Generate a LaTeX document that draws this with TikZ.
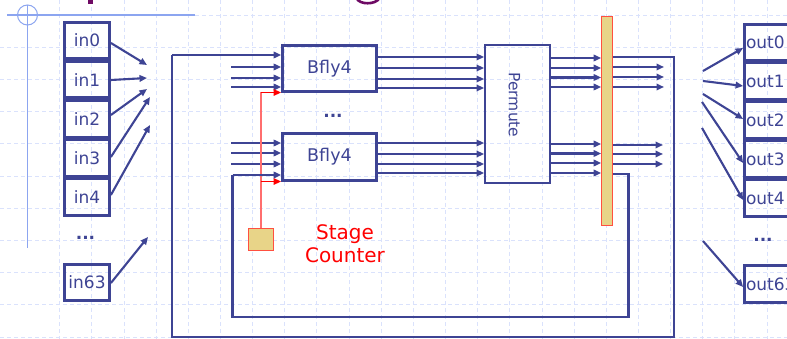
\documentclass[tikz,border=0pt]{standalone}
\usepackage{fontspec}
\setmainfont{DejaVu Sans}
\usetikzlibrary{arrows.meta,calc}
\definecolor{navy}{RGB}{62,68,148}
\definecolor{gridc}{RGB}{218,226,252}
\definecolor{axisc}{RGB}{140,165,240}
\definecolor{regfill}{RGB}{232,212,136}
\definecolor{regline}{RGB}{255,80,64}
\definecolor{titlec}{RGB}{110,10,100}
\definecolor{redline}{RGB}{255,110,110}
\begin{document}
\begin{tikzpicture}[x=1pt,y=-1pt,
  gridline/.style={draw=gridc,line width=0.8pt,dash pattern=on 4pt off 3pt},
  iobox/.style={draw=navy,line width=2.8pt,inner sep=0pt,minimum width=45pt,minimum height=36.5pt,
    font=\fontsize{17}{20}\selectfont,text=navy},
  outbox/.style={draw=navy,line width=2.8pt,inner ysep=0pt,inner xsep=1.5pt,text width=47pt,align=left,
    minimum height=36.5pt,font=\fontsize{17}{20}\selectfont,text=navy},
  bfbox/.style={draw=navy,line width=2.8pt,inner sep=0pt,minimum width=94pt,
    font=\fontsize{17.5}{20}\selectfont,text=navy},
  conn/.style={draw=navy,line width=2.1pt,-{Triangle[length=7.5pt,width=6.5pt]}},
  loopline/.style={draw=navy,line width=2.1pt},
  redarrow/.style={draw=red,line width=1.4pt,-{Triangle[length=7.5pt,width=6.5pt]}},
  dots/.style={text=navy,font=\fontsize{17}{20}\selectfont\bfseries,inner sep=0pt}
]
\useasboundingbox (0,0) rectangle (787,339);
\fill[white] (0,0) rectangle (787,339);
% grid
\foreach \i in {1,...,23} \draw[gridline] ({27.5+32.15*\i},0) -- ({27.5+32.15*\i},339);
\foreach \j in {1,...,10} \draw[gridline] (0,{15+32.2*\j}) -- (787,{15+32.2*\j});
\draw[gridline] (195,15) -- (787,15);
\draw[axisc,line width=1.2pt] (7,15) -- (195,15);
\draw[axisc,line width=1.2pt] (27.5,5) -- (27.5,248);
\draw[axisc,line width=1pt] (27.5,15) circle (10);
% title fragments
\fill[titlec] (88,0) rectangle (92.5,4);
\draw[titlec,line width=2.6pt] (356.5,-2) .. controls (359,5) and (376,5) .. (379.5,-2);

% inputs
\node[iobox] (in0) at (87,40.5) {in0};
\node[iobox] (in1) at (87,79.6) {in1};
\node[iobox] (in2) at (87,118.8) {in2};
\node[iobox] (in3) at (87,157.9) {in3};
\node[iobox] (in4) at (87,197) {in4};
\node[iobox] (in63) at (87,282.5) {in63};
\node[dots] (idots) at (85.5,238) {...};

\coordinate (a0) at (147,65);
\coordinate (a1) at (147,78);
\coordinate (a2) at (147,89);
\coordinate (a3) at (150,97);
\coordinate (a4) at (150,125);
\coordinate (a63) at (148,237);
\draw[conn] (in0.east |- 0,43) -- (a0);
\draw[conn] (in1.east |- 0,80) -- (a1);
\draw[conn] (in2.east |- 0,115) -- (a2);
\draw[conn] (in3.east |- 0,157) -- (a3);
\draw[conn] (in4.east |- 0,195) -- (a4);
\draw[conn] (in63.east |- 0,283) -- (a63);

% butterflies
\node[bfbox,minimum height=46pt] (bf1) at (329.5,68.5) {Bfly4};
\node[bfbox,minimum height=47pt] (bf2) at (329.5,157) {Bfly4};
\node[dots] (bdots) at (333,116) {...};

% permute
\node[draw=navy,line width=1.9pt,minimum width=65pt,minimum height=138pt,inner sep=0pt] (perm) at (517.5,114) {};
\node[text=navy,font=\fontsize{15.5}{18}\selectfont,rotate=-90] (permt) at (514.5,105) {Permute};

% register
\node[draw=regline,fill=regfill,line width=1.3pt,minimum width=10.5pt,minimum height=208.5pt,inner sep=0pt] (reg) at (607,121) {};

% stage counter
\node[draw=regline,fill=regfill,line width=1.3pt,minimum width=24.5pt,minimum height=21.5pt,inner sep=0pt] (ctr) at (261,239.5) {};
\node[text=red,align=center,font=\fontsize{20}{23}\selectfont] (ctrt) at (345,243.5) {Stage\\Counter};

% stub inputs to butterflies
\foreach \y in {67,78,87} {\coordinate (s\y) at (231,\y); \draw[conn] (s\y) -- (bf1.west |- s\y);}
\foreach \y in {143,153,164} {\coordinate (s\y) at (231,\y); \draw[conn] (s\y) -- (bf2.west |- s\y);}

% red control
\draw[redline,line width=1.4pt] (ctr.north) -- (ctr.north |- 0,92.5);
\draw[redarrow] (ctr.north |- 0,92.5) -- (bf1.west |- 0,92.5);
\draw[redarrow] (ctr.north |- 0,181.5) -- (bf2.west |- 0,181.5);

% butterfly to permute
\foreach \y in {57,68,79,88} \draw[conn] (bf1.east |- 0,\y) -- (perm.west |- 0,\y);
\foreach \y in {143,154,164,173} \draw[conn] (bf2.east |- 0,\y) -- (perm.west |- 0,\y);

% permute to register
\foreach \y in {58,68,77.5,87} \draw[conn] (perm.east |- 0,\y) -- (reg.west |- 0,\y);
\foreach \y in {144,153.5,163,173} \draw[conn] (perm.east |- 0,\y) -- (reg.west |- 0,\y);

% register outputs
\foreach \y in {67,77,87} {\coordinate (r\y) at (664,\y); \draw[conn] (reg.east |- 0,\y) -- (r\y);}
\foreach \y in {145,154,164} {\coordinate (r\y) at (663,\y); \draw[conn] (reg.east |- 0,\y) -- (r\y);}

% feedback loops
\draw[loopline] (reg.east |- 0,57) -| (674,337) -| (172,55);
\draw[conn] (172,55) -- (bf1.west |- 0,55);
\draw[loopline] (reg.east |- 0,174) -| (628.5,317) -| (232.5,175);
\draw[conn] (232.5,175) -- (bf2.west |- 0,175);

% outputs
\begin{scope}
\clip (0,0) rectangle (787,339);
\node[outbox] (out0) at (769.5,42.5) {out0};
\node[outbox] (out1) at (769.5,81.3) {out1};
\node[outbox] (out2) at (769.5,120.2) {out2};
\node[outbox] (out3) at (769.5,159.1) {out3};
\node[outbox] (out4) at (769.5,198) {out4};
\node[outbox] (out63) at (769.5,284) {out63};
\end{scope}
\node[dots] (odots) at (763,240) {...};

\coordinate (b0) at (703,71);
\coordinate (b1) at (703,81);
\coordinate (b2) at (703,94);
\coordinate (b3) at (702,102);
\coordinate (b4) at (702,128);
\coordinate (b63) at (703,241);
\draw[conn] (b0) -- (out0.west |- 0,48);
\draw[conn] (b1) -- (out1.west |- 0,86);
\draw[conn] (b2) -- (out2.west |- 0,119);
\draw[conn] (b3) -- (out3.west |- 0,163);
\draw[conn] (b4) -- (out4.west |- 0,200);
\draw[conn] (b63) -- (out63.west |- 0,287);
\end{tikzpicture}
\end{document}
